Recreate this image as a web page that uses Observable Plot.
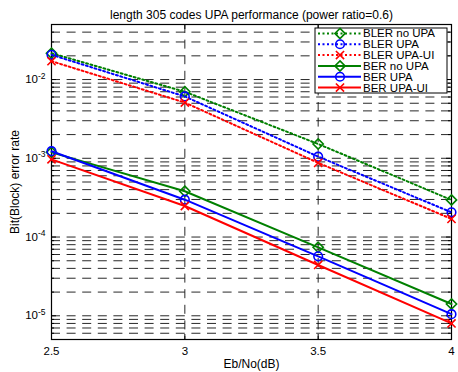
<!DOCTYPE html>
<html><head><meta charset="utf-8">
<script src="https://cdn.jsdelivr.net/npm/d3@7"></script>
<script src="https://cdn.jsdelivr.net/npm/@observablehq/plot@0.6"></script>
<style>body{margin:0;background:#fff;}</style>
</head><body><div id="chart"></div>
<script>
// ---- data ----
const ebno = [2.5, 3, 3.5, 4];
const seriesNames = ["BLER no UPA", "BLER UPA", "BLER UPA-UI", "BER no UPA", "BER UPA", "BER UPA-UI"];
const blerNoUpa = [0.0216, 0.0070, 0.00152, 0.000296];
const blerUpa   = [0.0206, 0.0061, 0.00105, 0.000206];
const blerUpaUi = [0.0171, 0.0051, 0.000875, 0.000170];
const berNoUpa  = [0.00119, 0.000381, 0.000074, 0.0000141];
const berUpa    = [0.00123, 0.000298, 0.0000569, 0.0000105];
const berUpaUi  = [0.00097, 0.000248, 0.0000442, 0.0000080];
const xTicks = [2.5, 3, 3.5, 4];
const yTicks = [1e-5, 1e-4, 1e-3, 1e-2];
const yDomain = [5e-6, 5e-2];
const xDomain = [2.5, 4];
const title = "length 305 codes UPA performance (power ratio=0.6)";
const xLabel = "Eb/No(dB)";
const yLabel = "Bit(Block) error rate";

// ---- styles ----
const seriesValues = [blerNoUpa, blerUpa, blerUpaUi, berNoUpa, berUpa, berUpaUi];
const colors = ["#008000", "#0000ff", "#ff0000", "#008000", "#0000ff", "#ff0000"];
const symbols = ["diamond2", "circle", "times", "diamond2", "circle", "times"];
const radii = [4.6, 4.3, 3.8, 4.6, 4.3, 3.8];
const dashes = ["2,2.5", "2,2.5", "2,2.5", null, null, null];
const FONT = "'Liberation Sans', Arial, sans-serif";

const W = 458, H = 372, mL = 51, mR = 7, mT = 24, mB = 33;
const pw = W - mL - mR, ph = H - mT - mB;

// grid values (all 1..9 x decade inside domain)
const yGrid = [];
for (let e = -6; e <= -2; e++) for (let m = 1; m <= 9; m++) {
  const v = +(m * Math.pow(10, e)).toPrecision(3);
  if (v >= yDomain[0] * 0.999 && v <= yDomain[1] * 1.001) yGrid.push(v);
}
const yMinor = yGrid.filter(v => !yTicks.some(t => Math.abs(t - v) / t < 1e-6));
const xGrid = xTicks.filter(v => v > xDomain[0] && v < xDomain[1]);

const gridStyle = {stroke: "#111", strokeWidth: 0.9, strokeDasharray: "9,6.6"};
const marks = [
  Plot.ruleY(yGrid, {y: d => d, ...gridStyle}),
  Plot.ruleX(xGrid, {x: d => d, ...gridStyle}),
  // inward ticks
  Plot.tickY(yTicks, {y: d => d, insetRight: pw - 5, stroke: "black"}),
  Plot.tickY(yTicks, {y: d => d, insetLeft: pw - 5, stroke: "black"}),
  Plot.tickY(yMinor, {y: d => d, insetRight: pw - 3, stroke: "black"}),
  Plot.tickY(yMinor, {y: d => d, insetLeft: pw - 3, stroke: "black"}),
  Plot.tickX(xTicks, {x: d => d, insetTop: ph - 5, stroke: "black"}),
  Plot.tickX(xTicks, {x: d => d, insetBottom: ph - 5, stroke: "black"}),
  Plot.frame({stroke: "black", strokeWidth: 1.2}),
  Plot.axisX({ticks: xTicks, tickSize: 0, tickPadding: 7, tickFormat: d => String(d), fontSize: 11.5,
    label: null}),
  Plot.axisX({ticks: [], label: xLabel, labelAnchor: "center", labelArrow: "none", labelOffset: 28, fontSize: 12}),
  Plot.axisY({ticks: yTicks, tickSize: 0, tickPadding: 6, fontSize: 11.5,
    tickFormat: d => "10^" + Math.round(Math.log10(d)), label: null}),
  Plot.axisY({ticks: [], label: yLabel, labelAnchor: "center", labelArrow: "none", labelOffset: 41, fontSize: 12}),
  Plot.text([title], {frameAnchor: "top", dy: -14, text: d => d, fontSize: 12, fill: "black"})
];
seriesNames.forEach((name, k) => {
  const rows = ebno.map((x, i) => ({x, y: seriesValues[k][i]}));
  marks.push(Plot.line(rows, {x: "x", y: "y", stroke: colors[k], strokeWidth: 2,
    strokeDasharray: dashes[k] || undefined}));
  marks.push(Plot.dot(rows, {x: "x", y: "y", symbol: symbols[k], r: radii[k],
    stroke: colors[k], strokeWidth: 1.6, fill: "none"}));
});

const chart = Plot.plot({
  width: W, height: H,
  marginLeft: mL, marginRight: mR, marginTop: mT, marginBottom: mB,
  style: {fontFamily: FONT, fontSize: "11.5px", background: "white", color: "black"},
  x: {domain: xDomain},
  y: {type: "log", domain: yDomain},
  marks
});

// superscript exponents for y tick labels
d3.select(chart).selectAll('g[aria-label="y-axis tick label"] text').each(function() {
  const t = d3.select(this);
  const s = t.text();
  const parts = s.split("^");
  if (parts.length === 2) {
    t.text("");
    t.append("tspan").text(parts[0]);
    t.append("tspan").attr("dy", "-0.55em").attr("font-size", "8.5px").text(parts[1]);
  }
});

// legend
const lg = d3.select(chart).append("g")
  .attr("font-family", FONT).attr("font-size", 11.5).attr("text-anchor", "start");
const lx = 315, ly = 28, lw = 132, lh = 65, rowH = lh / seriesNames.length;
lg.append("rect").attr("x", lx).attr("y", ly).attr("width", lw).attr("height", lh)
  .attr("fill", "white").attr("stroke", "black");
const symMap = {diamond2: d3.symbolDiamond2, circle: d3.symbolCircle, times: d3.symbolTimes};
seriesNames.forEach((name, k) => {
  const cy = ly + rowH * (k + 0.5);
  lg.append("line").attr("x1", lx + 3).attr("x2", lx + 46).attr("y1", cy).attr("y2", cy)
    .attr("stroke", colors[k]).attr("stroke-width", 2).attr("stroke-dasharray", dashes[k]);
  lg.append("path").attr("transform", `translate(${lx + 25},${cy})`)
    .attr("d", d3.symbol(symMap[symbols[k]], Math.PI * radii[k] * radii[k])())
    .attr("fill", "none").attr("stroke", colors[k]).attr("stroke-width", 1.6);
  lg.append("text").attr("x", lx + 48).attr("y", cy).attr("dy", "0.35em")
    .attr("text-anchor", "start").attr("fill", "black").text(name);
});

document.getElementById("chart").appendChild(chart);
</script>
</body></html>
